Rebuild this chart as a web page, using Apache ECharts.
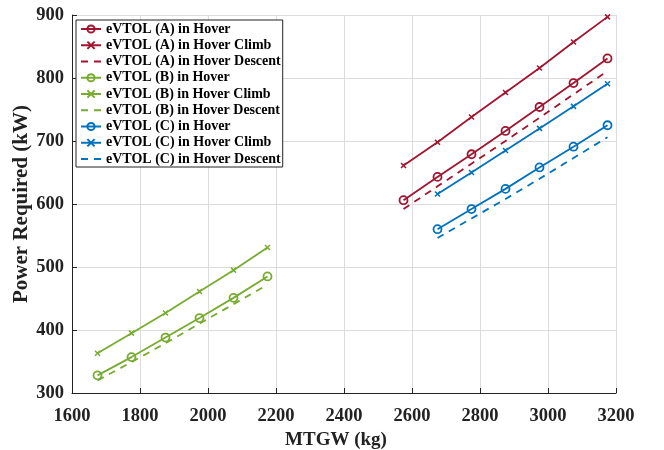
<!DOCTYPE html>
<html>
<head>
<meta charset="utf-8">
<script src="https://cdn.jsdelivr.net/npm/echarts@6/dist/echarts.min.js"></script>
<style>
  html, body { margin: 0; padding: 0; background: #fff; }
  #chart { width: 664px; height: 450px; }
</style>
</head>
<body>
<div id="chart"></div>
<script>
// x values (MTGW, kg)
const massA = [2575, 2675, 2775, 2875, 2975, 3075, 3175];
const massB = [1675, 1775, 1875, 1975, 2075, 2175];
const massC = [2675, 2775, 2875, 2975, 3075, 3175];

// power required (kW)
const hoverA = [606, 643, 679, 716, 754, 792, 831];
const climbA = [661, 698, 738, 777, 816, 857, 897];
const descentA = [592, 628, 664, 700, 737, 774, 811];

const hoverB = [328, 357, 388, 419, 451, 485];
const climbB = [363, 395, 427, 461, 495, 531];
const descentB = [320, 349, 379, 410, 441, 472];

const hoverC = [560, 592, 624, 658, 691, 725];
const climbC = [616, 650, 685, 720, 755, 791];
const descentC = [546, 577, 608, 640, 673, 706];

const seriesNames = [
  'eVTOL (A) in Hover', 'eVTOL (A) in Hover Climb', 'eVTOL (A) in Hover Descent',
  'eVTOL (B) in Hover', 'eVTOL (B) in Hover Climb', 'eVTOL (B) in Hover Descent',
  'eVTOL (C) in Hover', 'eVTOL (C) in Hover Climb', 'eVTOL (C) in Hover Descent'
];

const RED = '#A2142F', GREEN = '#77AC30', BLUE = '#0072BD';
const FONT = '"Liberation Serif", "DejaVu Serif", serif';
const CROSS = 'path://M0,0L10,10M10,0L0,10';
// two short dashes for the descent legend entries
const DASH_ICON = 'path://M0,0h7v1.8h-7zM13,0h7v1.8h-7z';

function pairs(xs, ys) {
  return xs.map((x, i) => [x, ys[i]]);
}

// one series per line, kind = hover / climb / descent
function makeSeries(name, xs, ys, color, kind) {
  let s = {
    name: name,
    type: 'line',
    data: pairs(xs, ys),
    lineStyle: { color: color, width: 1.8 },
    itemStyle: { color: color, borderColor: color },
    emphasis: { disabled: true },
    z: 3
  };
  if (kind === 'hover') {
    s.symbol = 'circle';
    s.symbolSize = 8;
    s.itemStyle.borderWidth = 1.8;
    s.itemStyle.color = 'rgba(255,255,255,0)';
  } else if (kind === 'climb') {
    s.symbol = CROSS;
    s.symbolSize = 5;
    s.itemStyle.borderWidth = 1.5;
  } else {
    s.symbol = 'none';
    s.lineStyle.type = [7, 6];
  }
  return s;
}

const legendData = seriesNames.map(n => n.endsWith('Descent') ? { name: n, icon: DASH_ICON } : n);

const chart = echarts.init(document.getElementById('chart'));
const option = {
  animation: false,
  backgroundColor: '#fff',
  textStyle: { fontFamily: FONT },
  grid: { left: 72, right: 48, top: 15, bottom: 57, outerBoundsMode: 'none', containLabel: false },
  legend: {
    orient: 'vertical',
    left: 76,
    top: 20,
    itemWidth: 20,
    itemHeight: 9,
    itemGap: 2.25,
    padding: [2, 2, 1, 4],
    borderColor: '#222',
    borderWidth: 1,
    borderRadius: 0,
    backgroundColor: '#fff',
    symbolKeepAspect: true,
    textStyle: { fontFamily: FONT, fontWeight: 'bold', fontSize: 14, color: '#000' },
    data: legendData
  },
  xAxis: {
    type: 'value',
    min: 1600, max: 3200, interval: 200,
    name: 'MTGW (kg)',
    nameLocation: 'middle',
    nameGap: 38,
    nameMoveOverlap: false,
    nameTextStyle: { fontFamily: FONT, fontWeight: 'bold', fontSize: 19, color: '#222', padding: [0, 16, 0, 0] },
    axisLine: { show: true, lineStyle: { color: '#222', width: 1 } },
    axisTick: { show: true, inside: true, length: 5, lineStyle: { color: '#222' } },
    axisLabel: { fontFamily: FONT, fontWeight: 'bold', fontSize: 18.5, color: '#222', margin: 14, formatter: v => String(v) },
    splitLine: { show: true, lineStyle: { color: '#dcdcdc', width: 1 } }
  },
  yAxis: {
    type: 'value',
    min: 300, max: 900, interval: 100,
    name: 'Power Required (kW)',
    nameLocation: 'middle',
    nameGap: 40,
    nameMoveOverlap: false,
    nameTextStyle: { fontFamily: FONT, fontWeight: 'bold', fontSize: 21, color: '#222' },
    axisLine: { show: true, lineStyle: { color: '#222', width: 1 } },
    axisTick: { show: true, inside: true, length: 5, lineStyle: { color: '#222' } },
    axisLabel: { fontFamily: FONT, fontWeight: 'bold', fontSize: 18.5, color: '#222', margin: 8 },
    splitLine: { show: true, lineStyle: { color: '#dcdcdc', width: 1 } }
  },
  series: [
    makeSeries(seriesNames[0], massA, hoverA, RED, 'hover'),
    makeSeries(seriesNames[1], massA, climbA, RED, 'climb'),
    makeSeries(seriesNames[2], massA, descentA, RED, 'descent'),
    makeSeries(seriesNames[3], massB, hoverB, GREEN, 'hover'),
    makeSeries(seriesNames[4], massB, climbB, GREEN, 'climb'),
    makeSeries(seriesNames[5], massB, descentB, GREEN, 'descent'),
    makeSeries(seriesNames[6], massC, hoverC, BLUE, 'hover'),
    makeSeries(seriesNames[7], massC, climbC, BLUE, 'climb'),
    makeSeries(seriesNames[8], massC, descentC, BLUE, 'descent')
  ]
};
chart.setOption(option);
</script>
</body>
</html>
